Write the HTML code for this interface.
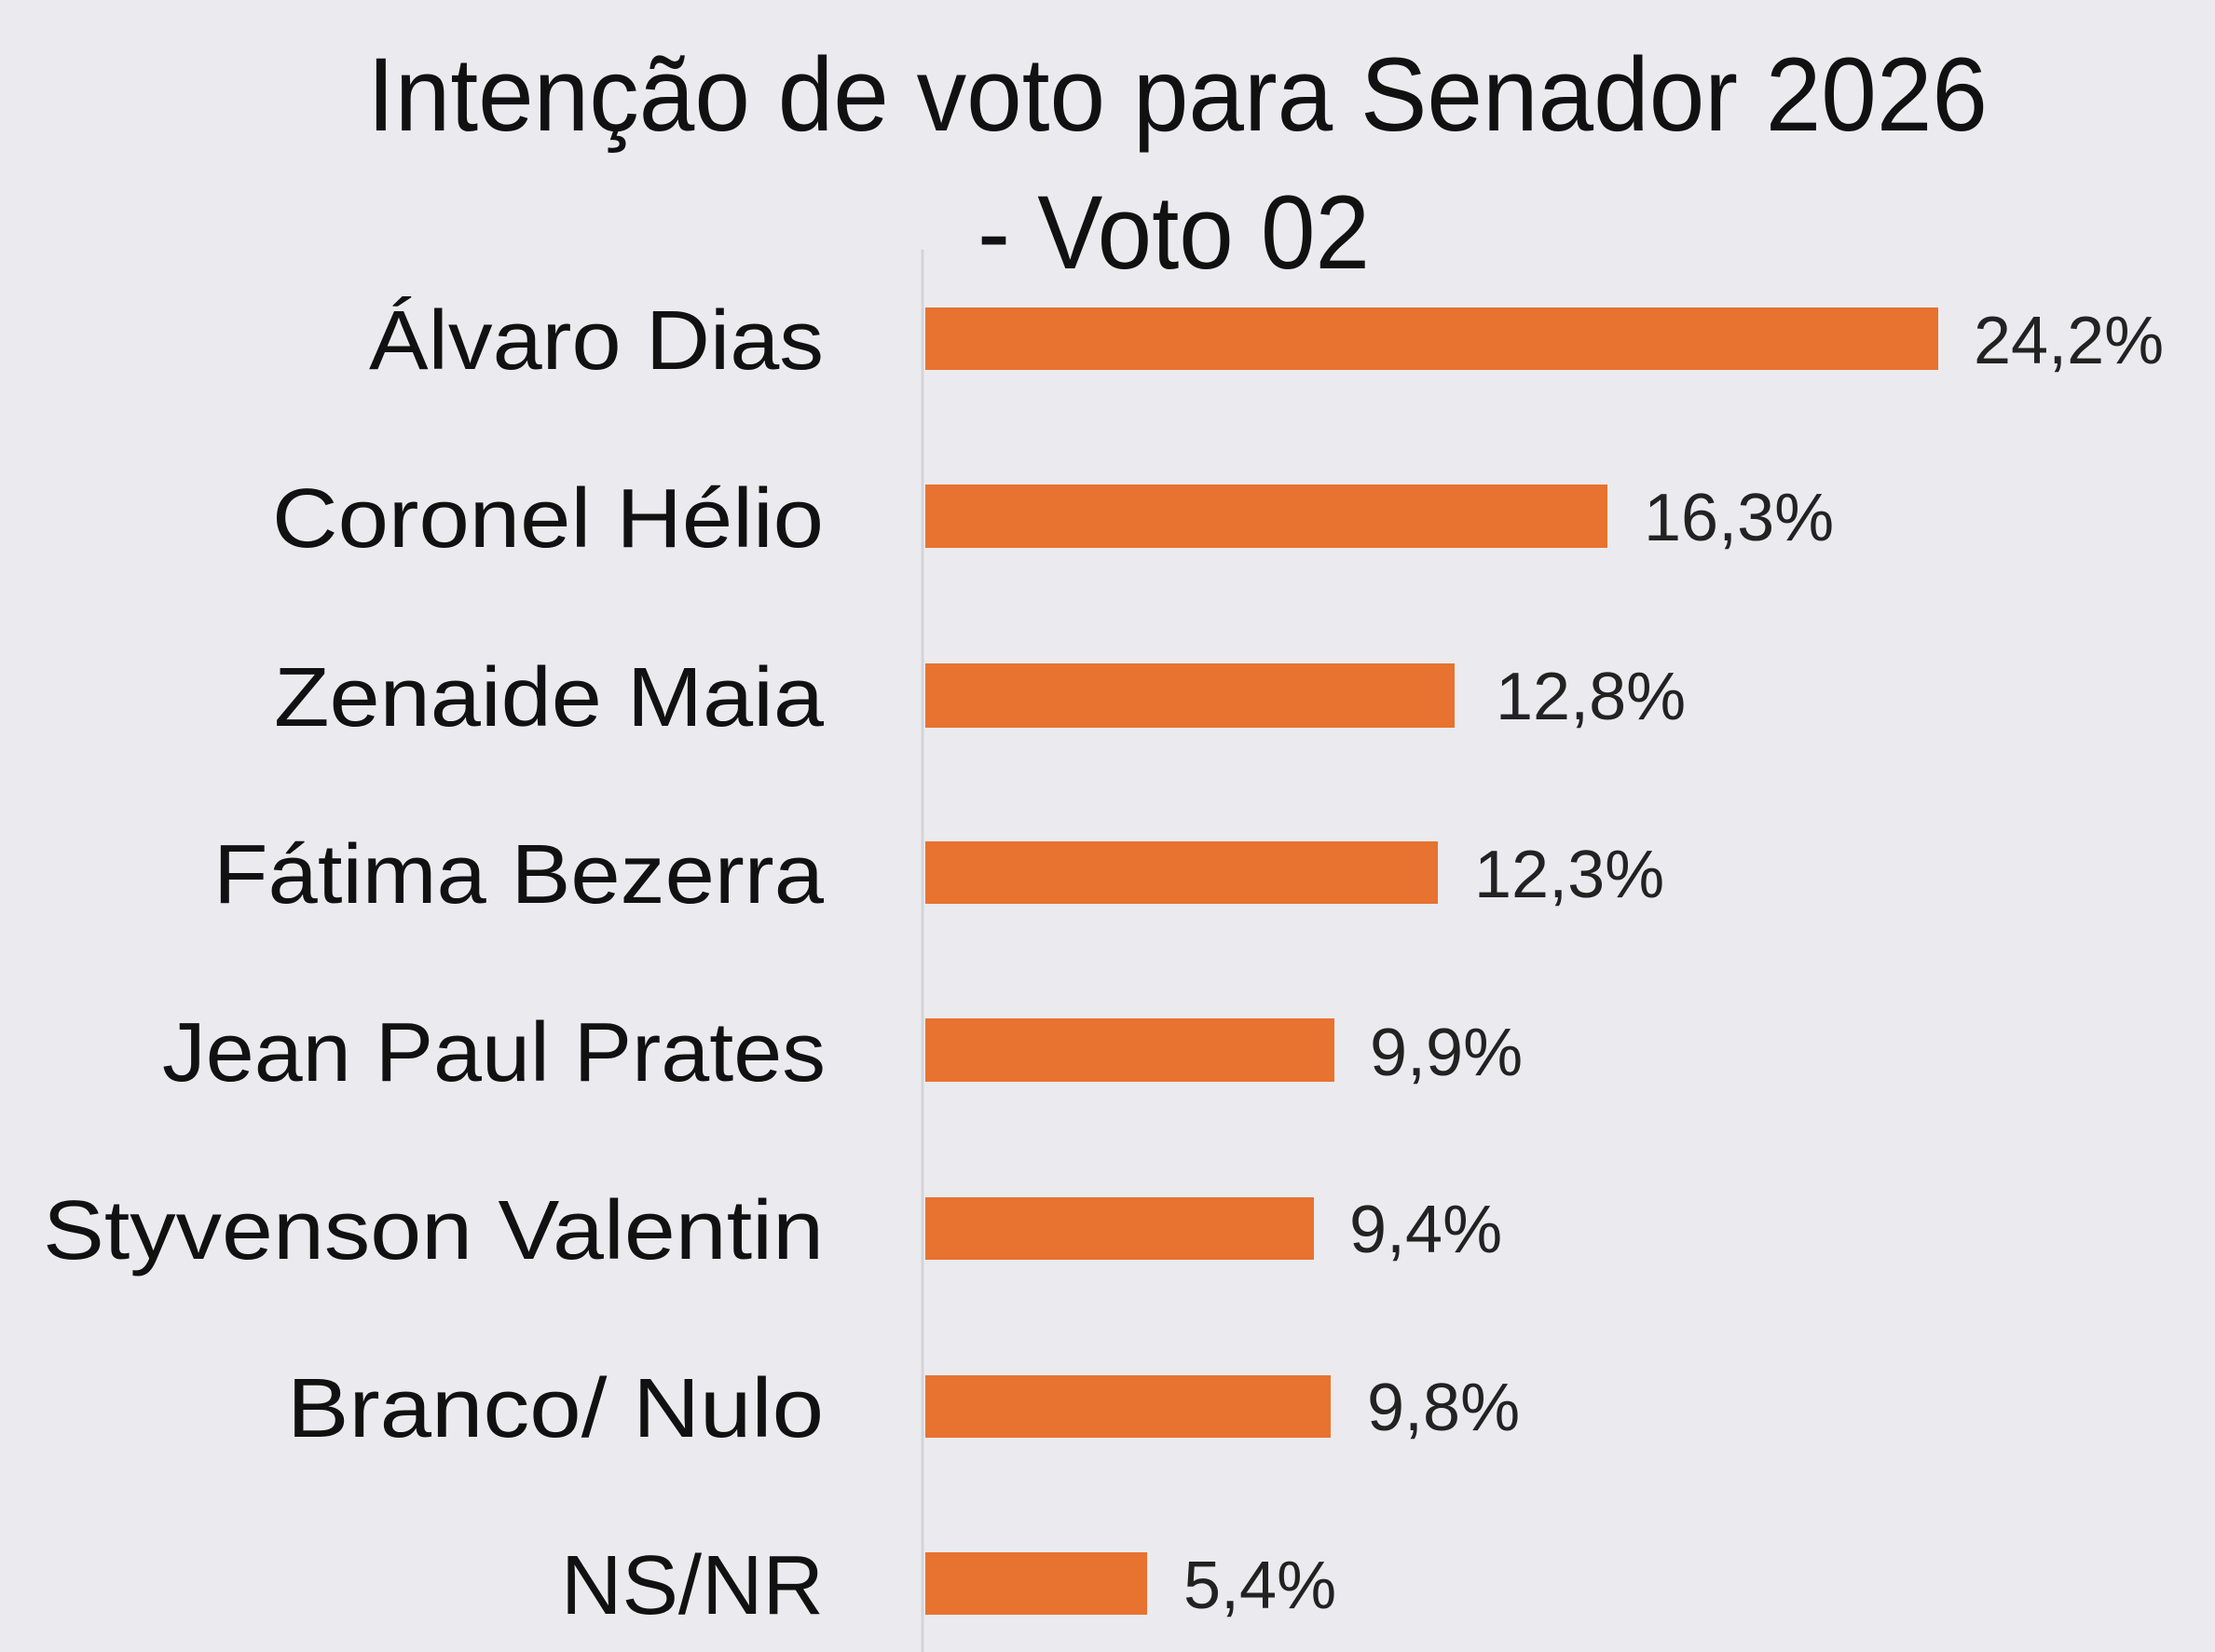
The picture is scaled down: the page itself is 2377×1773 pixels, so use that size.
<!DOCTYPE html>
<html><head><meta charset="utf-8"><style>
html,body{margin:0;padding:0;background:#ebebef;}
svg{display:block;}
</style></head><body>
<svg width="2377" height="1773" viewBox="0 0 2377 1773" xmlns="http://www.w3.org/2000/svg">
<rect width="2377" height="1773" fill="#ebebef"/>
<g font-family="Liberation Sans, sans-serif" fill="#111">
<text x="394" y="140" font-size="112" textLength="1739" lengthAdjust="spacingAndGlyphs">Intenção de voto para Senador 2026</text>
<text x="1049" y="288" font-size="112" textLength="421" lengthAdjust="spacingAndGlyphs">- Voto 02</text>
</g>
<line x1="990" y1="268" x2="990" y2="1773" stroke="#d4d4d8" stroke-width="3"/>
<g fill="#e8722f">
<rect x="993" y="330" width="1087" height="67"/>
<rect x="993" y="520" width="732" height="68"/>
<rect x="993" y="712" width="568" height="69"/>
<rect x="993" y="903" width="550" height="67"/>
<rect x="993" y="1093" width="439" height="68"/>
<rect x="993" y="1285" width="417" height="67"/>
<rect x="993" y="1476" width="435" height="67"/>
<rect x="993" y="1666" width="238" height="67"/>
</g>
<g font-family="Liberation Sans, sans-serif" font-size="90" fill="#111" text-anchor="end">
<text x="884" y="396" textLength="488" lengthAdjust="spacingAndGlyphs">Álvaro Dias</text>
<text x="884" y="587" textLength="592" lengthAdjust="spacingAndGlyphs">Coronel Hélio</text>
<text x="884" y="779" textLength="590" lengthAdjust="spacingAndGlyphs">Zenaide Maia</text>
<text x="884" y="969" textLength="655" lengthAdjust="spacingAndGlyphs">Fátima Bezerra</text>
<text x="886" y="1160" textLength="712" lengthAdjust="spacingAndGlyphs">Jean Paul Prates</text>
<text x="884" y="1351" textLength="838" lengthAdjust="spacingAndGlyphs">Styvenson Valentin</text>
<text x="884" y="1542" textLength="576" lengthAdjust="spacingAndGlyphs">Branco/ Nulo</text>
<text x="884" y="1732" textLength="282" lengthAdjust="spacingAndGlyphs">NS/NR</text>
</g>
<g font-family="Liberation Sans, sans-serif" font-size="72" fill="#222">
<text x="2118" y="390">24,2%</text>
<text x="1764" y="580">16,3%</text>
<text x="1605" y="772">12,8%</text>
<text x="1582" y="963">12,3%</text>
<text x="1470" y="1154">9,9%</text>
<text x="1448" y="1344">9,4%</text>
<text x="1467" y="1535">9,8%</text>
<text x="1270" y="1726">5,4%</text>
</g>
</svg>
</body></html>
